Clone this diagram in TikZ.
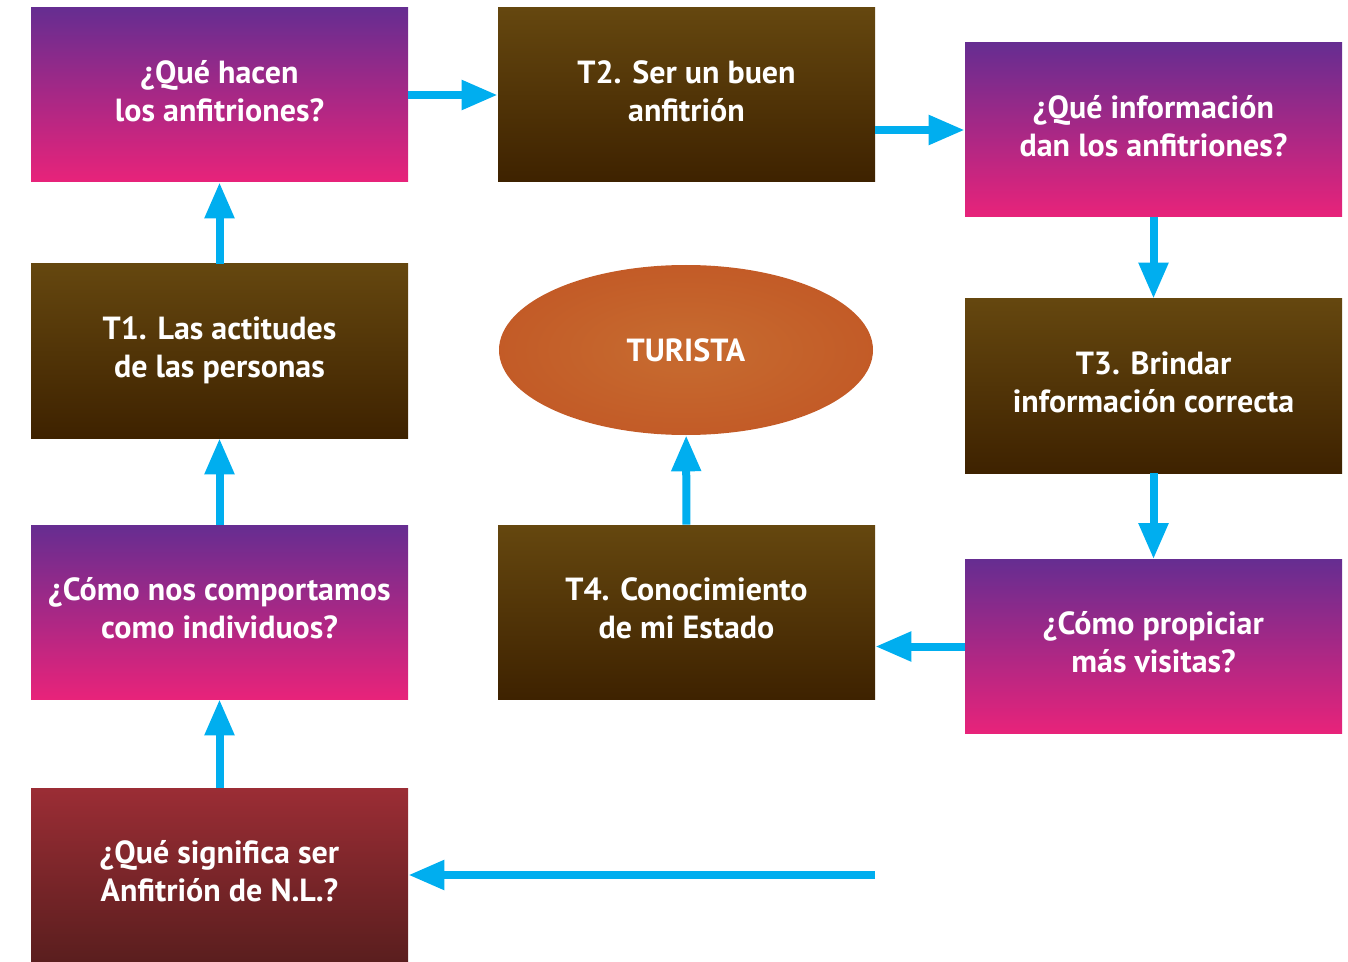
\documentclass[tikz,border=0pt]{standalone}
\usepackage{fontspec}
\setmainfont{PT Sans}
\usetikzlibrary{arrows.meta,shapes.geometric}
\definecolor{qtop}{HTML}{662D91}
\definecolor{qbot}{HTML}{E8237A}
\definecolor{ttop}{HTML}{65470F}
\definecolor{tbot}{HTML}{3E2200}
\definecolor{rtop}{HTML}{9B2D35}
\definecolor{rbot}{HTML}{5A1E1E}
\definecolor{ecen}{HTML}{C6682E}
\definecolor{eedge}{HTML}{BE4A1E}
\definecolor{cyanarr}{HTML}{00AEEF}
\pgfdeclareradialshading{turshade}{\pgfpoint{0bp}{0bp}}{color(0bp)=(ecen); color(6bp)=(ecen); color(50bp)=(eedge); color(100bp)=(eedge)}
\newcommand{\twolines}[1]{\raisebox{0.3pt}[\height][\depth]{\begin{tabular}{@{}c@{}}#1\end{tabular}}}
\tikzset{
  box/.style={rectangle, minimum width=377*0.75pt, minimum height=174*0.75pt, inner sep=0pt,
    text=white, font=\bfseries\fontsize{24}{28.5}\selectfont},
  qbox/.style={box, top color=qtop, bottom color=qbot},
  tbox/.style={box, top color=ttop, bottom color=tbot},
  rbox/.style={box, top color=rtop, bottom color=rbot},
  conn/.style={draw=cyanarr, line width=6pt, -{Triangle[length=27pt,width=21pt]}},
}
\begin{document}
\begin{tikzpicture}[x=0.75pt,y=-0.75pt]
\useasboundingbox (0,0) rectangle (1348,962);
\node[qbox] (q1) at (219.5,95) {\twolines{¿Qué hacen\\los anfitriones?}};
\node[tbox] (t2) at (686.5,95) {\twolines{T2. Ser un buen\\anfitrión}};
\node[qbox] (q2) at (1153.5,130) {\twolines{¿Qué información\\dan los anfitriones?}};
\node[tbox] (t1) at (219.5,351) {\twolines{T1. Las actitudes\\de las personas}};
\node[ellipse, minimum width=374*0.75pt, minimum height=170*0.75pt, inner sep=0pt,
  shading=turshade, text=white, font=\bfseries\fontsize{24}{28.5}\selectfont]
  (tur) at (686,350) {TURISTA};
\node[tbox] (t3) at (1153.5,386) {\twolines{T3. Brindar\\información correcta}};
\node[qbox] (q3) at (219.5,612) {\twolines{¿Cómo nos comportamos\\como individuos?}};
\node[tbox] (t4) at (686.5,612) {\twolines{T4. Conocimiento\\de mi Estado}};
\node[qbox] (q4) at (1153.5,646.5) {\twolines{¿Cómo propiciar\\más visitas?}};
\node[rbox] (q5) at (219.5,875) {\twolines{¿Qué significa ser\\Anfitrión de N.L.?}};
\coordinate (free) at (875,875);

\draw[conn] (q1.east |- 0,95) -- (t2.west |- 0,95);
\draw[conn] (t2.east |- 0,130) -- (q2.west);
\draw[conn] (q2) -- (t3);
\draw[conn] (t3) -- (q4);
\draw[conn] (q4.west) -- (t4.east |- 0,646.5);
\draw[conn] (t4) -- (tur);
\draw[conn] (free) -- (q5.east);
\draw[conn] (q5) -- (q3);
\draw[conn] (q3) -- (t1);
\draw[conn] (t1) -- (q1);
\end{tikzpicture}
\end{document}
